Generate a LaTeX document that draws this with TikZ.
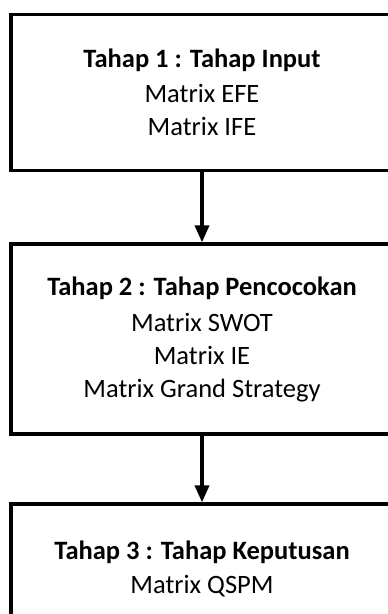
\documentclass[tikz,border=0pt]{standalone}
\usepackage{fontspec}
\setmainfont{Carlito}
\usetikzlibrary{arrows.meta,positioning}

\tikzset{
	tahap/.style={draw, line width=3.2pt, minimum width=382pt, inner sep=0pt,
		align=center, font=\fontsize{26.5}{33}\selectfont},
	alur/.style={-{Triangle[length=17pt,width=14pt]}, line width=3.6pt}
}

\begin{document}
\begin{tikzpicture}[x=1pt,y=-1pt]
	\clip (0,0) rectangle (388,614);
	
	% the three stages
	\node[tahap, minimum height=156pt] (input) at (202,92.4)
		{\textbf{Tahap 1 : Tahap Input}\\[2pt] Matrix EFE\\ Matrix IFE};
	\node[tahap, minimum height=190pt] (cocok) at (202,339)
		{\textbf{Tahap 2 : Tahap Pencocokan}\\[3pt] Matrix SWOT\\ Matrix IE\\ Matrix Grand Strategy};
	\node[tahap, minimum height=130pt] (putus) at (202,569)
		{\textbf{Tahap 3 : Tahap Keputusan}\\[1pt] Matrix QSPM};
	
	% arrows between stages
	\draw[alur] (input) -- (cocok);
	\draw[alur] (cocok) -- (putus);
\end{tikzpicture}
\end{document}
